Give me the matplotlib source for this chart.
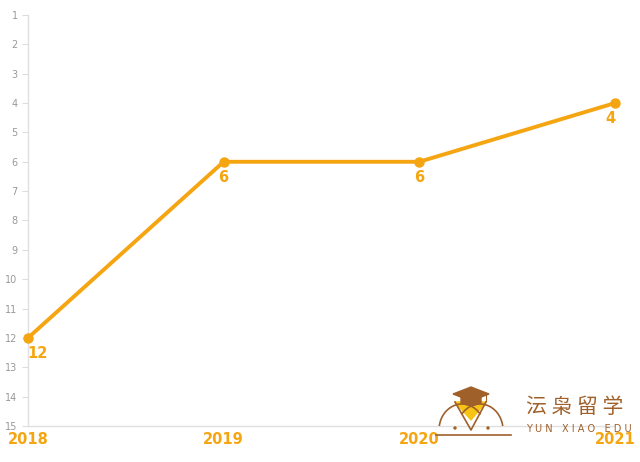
import matplotlib.pyplot as plt
from matplotlib.patches import Polygon, Circle, Arc

years = ["2018", "2019", "2020", "2021"]
ranks = [12, 6, 6, 4]
yticks = list(range(1, 16))

orange = "#F5A511"
brown = "#A0602A"

fig = plt.figure(figsize=(6.4, 4.62), dpi=100)
ax = fig.add_axes([0.04375, 0.078, 0.917, 0.8895])

x = list(range(len(years)))
ax.plot(x, ranks, color=orange, lw=2.8, marker="o", ms=6.5, zorder=3, clip_on=False)

# labels under the points
offs = [(7, -11), (0, -11), (0, -11), (-3, -11)]
for xi, r, o in zip(x, ranks, offs):
    ax.annotate(str(r), (xi, r), xytext=o, textcoords="offset points", ha="center", va="center",
                color=orange, fontsize=10.5, fontweight="bold")

ax.set_xlim(0, 3)
ax.set_ylim(15, 1)
ax.set_yticks(yticks)
ax.set_xticks(x)
ax.set_xticklabels(years, color=orange, fontsize=10.5, fontweight="bold")
ax.tick_params(axis="y", labelsize=7, labelcolor="#999999", color="#dddddd", length=4, width=0.8)
ax.tick_params(axis="x", length=0, pad=4)
for s in ["top", "right"]:
    ax.spines[s].set_visible(False)
for s in ["left", "bottom"]:
    ax.spines[s].set_color("#e0e0e0")
    ax.spines[s].set_linewidth(1)

# watermark logo
fig.text(0.822, 0.118, "沄 枭 留 学", family=["Noto Sans CJK SC", "DejaVu Sans"], color=brown,
         fontsize=15, va="center", ha="left")
fig.text(0.822, 0.072, "Y U N   X I A O   E D U", color=brown, fontsize=7, va="center", ha="left")

# logo drawn in pixel coords
la = fig.add_axes([430 / 640, 1 - 440 / 462, 85 / 640, 58 / 462])
la.set_xlim(430, 515)
la.set_ylim(440, 382)
la.axis("off")
la.add_patch(Polygon([[455, 402], [486, 402], [471, 420]], closed=True, color="#F7C415"))
la.add_patch(Polygon([[453, 394], [471, 387], [489, 394], [471, 401]], closed=True, color=brown))
la.add_patch(Polygon([[461, 396], [481, 396], [481, 403], [471, 406], [461, 403]], closed=True, color=brown))
la.plot([486, 486], [394, 401], color=brown, lw=0.8)
la.plot([455, 471, 486], [402, 430, 402], color=brown, lw=1.2)
la.add_patch(Arc((462, 430), 46, 52, theta1=190, theta2=320, color=brown, lw=1.2))
la.add_patch(Arc((480, 430), 46, 52, theta1=220, theta2=350, color=brown, lw=1.2))
la.plot([436, 511], [435, 435], color=brown, lw=1.2)
la.add_patch(Circle((455, 428), 1.0, color=brown))
la.add_patch(Circle((488, 428), 1.0, color=brown))

fig.savefig("out.png", dpi=100)
